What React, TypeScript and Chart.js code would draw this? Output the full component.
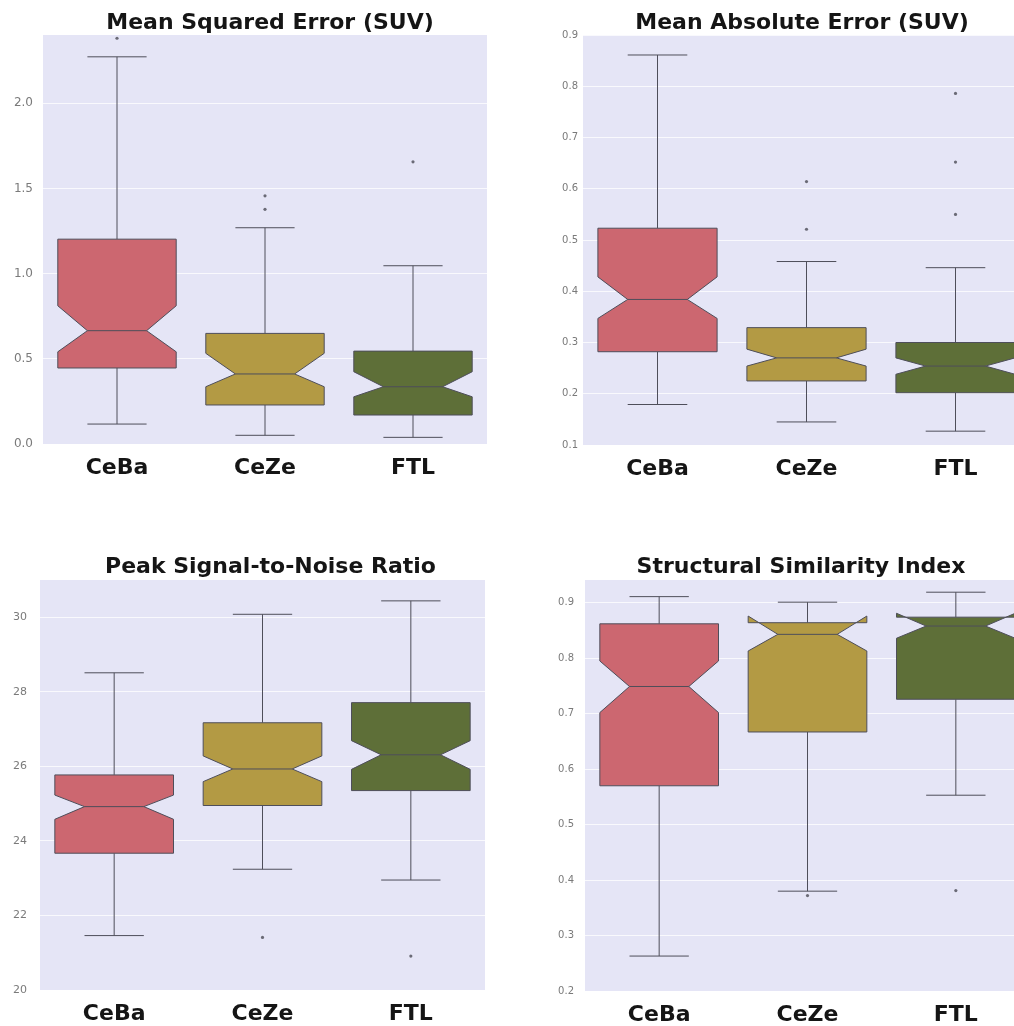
import React, { useEffect, useRef } from 'react';
import { Chart, registerables } from 'chart.js';

Chart.register(...registerables);

const FONT = 'DejaVu Sans';

const categories = ['CeBa', 'CeZe', 'FTL'];
const boxColors = ['#cc6770', '#b39a44', '#5e6f38'];
const edgeColor = '#4e4e5a';
const plotBackground = '#e5e5f6';

// Mean Squared Error (SUV)
const mseWhiskerLow = [0.117, 0.051, 0.039];
const mseQ1 = [0.446, 0.229, 0.17];
const mseNotchLow = [0.541, 0.336, 0.277];
const mseMedian = [0.665, 0.411, 0.336];
const mseNotchHigh = [0.811, 0.532, 0.424];
const mseQ3 = [1.202, 0.649, 0.545];
const mseWhiskerHigh = [2.272, 1.269, 1.046];
const mseOutliers = [[2.381], [1.377, 1.456], [1.656]];
const mseTicks = [0, 0.5, 1.0, 1.5, 2.0];

// Mean Absolute Error (SUV)
const maeWhiskerLow = [0.179, 0.145, 0.127];
const maeQ1 = [0.282, 0.225, 0.202];
const maeNotchLow = [0.347, 0.254, 0.238];
const maeMedian = [0.384, 0.27, 0.254];
const maeNotchHigh = [0.428, 0.287, 0.27];
const maeQ3 = [0.523, 0.329, 0.3];
const maeWhiskerHigh = [0.861, 0.458, 0.446];
const maeOutliers = [[], [0.521, 0.614], [0.55, 0.652, 0.786]];
const maeTicks = [0.1, 0.2, 0.3, 0.4, 0.5, 0.6, 0.7, 0.8, 0.9];

// Peak Signal-to-Noise Ratio
const psnrWhiskerLow = [21.46, 23.24, 22.95];
const psnrQ1 = [23.67, 24.95, 25.35];
const psnrNotchLow = [24.58, 25.59, 25.92];
const psnrMedian = [24.92, 25.93, 26.31];
const psnrNotchHigh = [25.23, 26.28, 26.69];
const psnrQ3 = [25.77, 27.17, 27.71];
const psnrWhiskerHigh = [28.51, 30.08, 30.44];
const psnrOutliers = [[], [21.41], [20.91]];
const psnrTicks = [20, 22, 24, 26, 28, 30];

// Structural Similarity Index
const ssimWhiskerLow = [0.263, 0.38, 0.553];
const ssimQ1 = [0.57, 0.667, 0.726];
const ssimNotchLow = [0.702, 0.813, 0.836];
const ssimMedian = [0.749, 0.843, 0.858];
const ssimNotchHigh = [0.795, 0.876, 0.881];
const ssimQ3 = [0.862, 0.864, 0.874];
const ssimWhiskerHigh = [0.911, 0.901, 0.919];
const ssimOutliers = [[], [0.372], [0.381]];
const ssimTicks = [0.2, 0.3, 0.4, 0.5, 0.6, 0.7, 0.8, 0.9];

type Stats = {
  whiskerLow: number[];
  q1: number[];
  notchLow: number[];
  median: number[];
  notchHigh: number[];
  q3: number[];
  whiskerHigh: number[];
  outliers: number[][];
};

type PanelSpec = {
  title: string;
  stats: Stats;
  yMin: number;
  yMax: number;
  yTicks: number[];
  decimals: number;
  left: number;
  top: number;
  width: number;
  height: number;
  yAxisWidth: number;
  xAxisHeight: number;
  padRight: number;
  titlePadTop: number;
  titlePadBottom: number;
  yTickPadding: number;
  yTickSize: number;
};

const panels: PanelSpec[] = [
  {
    title: 'Mean Squared Error (SUV)',
    stats: { whiskerLow: mseWhiskerLow, q1: mseQ1, notchLow: mseNotchLow, median: mseMedian, notchHigh: mseNotchHigh, q3: mseQ3, whiskerHigh: mseWhiskerHigh, outliers: mseOutliers },
    yMin: 0, yMax: 2.4, yTicks: mseTicks, decimals: 1,
    left: 0, top: 0, width: 540, height: 500,
    yAxisWidth: 43, xAxisHeight: 56, padRight: 53, titlePadTop: 12, titlePadBottom: 1,
    yTickPadding: 10, yTickSize: 12,
  },
  {
    title: 'Mean Absolute Error (SUV)',
    stats: { whiskerLow: maeWhiskerLow, q1: maeQ1, notchLow: maeNotchLow, median: maeMedian, notchHigh: maeNotchHigh, q3: maeQ3, whiskerHigh: maeWhiskerHigh, outliers: maeOutliers },
    yMin: 0.1, yMax: 0.9, yTicks: maeTicks, decimals: 1,
    left: 505, top: 0, width: 594, height: 500,
    yAxisWidth: 78, xAxisHeight: 55, padRight: 69, titlePadTop: 12, titlePadBottom: 1,
    yTickPadding: 5, yTickSize: 10,
  },
  {
    title: 'Peak Signal-to-Noise Ratio',
    stats: { whiskerLow: psnrWhiskerLow, q1: psnrQ1, notchLow: psnrNotchLow, median: psnrMedian, notchHigh: psnrNotchHigh, q3: psnrQ3, whiskerHigh: psnrWhiskerHigh, outliers: psnrOutliers },
    yMin: 20, yMax: 31, yTicks: psnrTicks, decimals: 0,
    left: 0, top: 540, width: 541, height: 500,
    yAxisWidth: 40, xAxisHeight: 50, padRight: 56, titlePadTop: 16, titlePadBottom: 2,
    yTickPadding: 13, yTickSize: 11,
  },
  {
    title: 'Structural Similarity Index',
    stats: { whiskerLow: ssimWhiskerLow, q1: ssimQ1, notchLow: ssimNotchLow, median: ssimMedian, notchHigh: ssimNotchHigh, q3: ssimQ3, whiskerHigh: ssimWhiskerHigh, outliers: ssimOutliers },
    yMin: 0.2, yMax: 0.941, yTicks: ssimTicks, decimals: 1,
    left: 505, top: 540, width: 592, height: 500,
    yAxisWidth: 80, xAxisHeight: 49, padRight: 67, titlePadTop: 16, titlePadBottom: 2,
    yTickPadding: 11, yTickSize: 10,
  },
];

const backgroundPlugin = {
  id: 'plotBackground',
  beforeDraw(chart: any) {
    const { ctx, chartArea } = chart;
    ctx.save();
    ctx.fillStyle = plotBackground;
    ctx.fillRect(chartArea.left, chartArea.top, chartArea.right - chartArea.left, chartArea.bottom - chartArea.top);
    ctx.restore();
  },
};

function makeBoxPlugin(stats: Stats) {
  return {
    id: 'notchedBox',
    beforeDatasetsDraw(chart: any) {
      const { ctx } = chart;
      const yScale = chart.scales.y;
      const meta = chart.getDatasetMeta(0);
      const py = (v: number) => yScale.getPixelForValue(v);
      ctx.save();
      ctx.beginPath();
      ctx.rect(chart.chartArea.left, chart.chartArea.top, chart.chartArea.right - chart.chartArea.left, chart.chartArea.bottom - chart.chartArea.top);
      ctx.clip();
      meta.data.forEach((bar: any, i: number) => {
        const x = bar.x;
        const w = bar.width;
        const left = x - w / 2;
        const right = x + w / 2;
        const capL = x - w / 4;
        const capR = x + w / 4;
        ctx.lineWidth = 1;
        ctx.strokeStyle = edgeColor;
        // whiskers
        ctx.beginPath();
        ctx.moveTo(x, py(stats.q1[i]));
        ctx.lineTo(x, py(stats.whiskerLow[i]));
        ctx.moveTo(capL, py(stats.whiskerLow[i]));
        ctx.lineTo(capR, py(stats.whiskerLow[i]));
        ctx.moveTo(x, py(stats.q3[i]));
        ctx.lineTo(x, py(stats.whiskerHigh[i]));
        ctx.moveTo(capL, py(stats.whiskerHigh[i]));
        ctx.lineTo(capR, py(stats.whiskerHigh[i]));
        ctx.stroke();
        // notched box
        ctx.beginPath();
        ctx.moveTo(left, py(stats.q1[i]));
        ctx.lineTo(right, py(stats.q1[i]));
        ctx.lineTo(right, py(stats.notchLow[i]));
        ctx.lineTo(capR, py(stats.median[i]));
        ctx.lineTo(right, py(stats.notchHigh[i]));
        ctx.lineTo(right, py(stats.q3[i]));
        ctx.lineTo(left, py(stats.q3[i]));
        ctx.lineTo(left, py(stats.notchHigh[i]));
        ctx.lineTo(capL, py(stats.median[i]));
        ctx.lineTo(left, py(stats.notchLow[i]));
        ctx.closePath();
        ctx.fillStyle = boxColors[i];
        ctx.fill();
        ctx.stroke();
        // median
        ctx.beginPath();
        ctx.moveTo(capL, py(stats.median[i]));
        ctx.lineTo(capR, py(stats.median[i]));
        ctx.stroke();
      });
      ctx.restore();
    },
  };
}

function BoxPanel({ spec }: { spec: PanelSpec }) {
  const ref = useRef<HTMLCanvasElement | null>(null);
  useEffect(() => {
    if (!ref.current) return;
    const s = spec.stats;
    const outlierPoints = s.outliers.flatMap((arr, i) => arr.map((y) => ({ x: categories[i], y })));
    const chart = new Chart(ref.current, {
      type: 'bar',
      data: {
        labels: categories,
        datasets: [
          {
            type: 'bar',
            data: s.q1.map((v, i) => [v, s.q3[i]]) as any,
            backgroundColor: 'rgba(0,0,0,0)',
            borderWidth: 0,
            barPercentage: 0.8,
            categoryPercentage: 1,
            yAxisID: 'y',
          },
          {
            type: 'scatter',
            data: outlierPoints as any,
            pointRadius: 1.6,
            pointBackgroundColor: '#6a6a76',
            pointBorderWidth: 0,
            showLine: false,
            yAxisID: 'y',
          } as any,
        ],
      },
      options: {
        responsive: false,
        animation: false,
        devicePixelRatio: 1,
        layout: { padding: 0 },
        plugins: {
          legend: { display: false },
          tooltip: { enabled: false },
          title: {
            display: true,
            text: spec.title,
            color: '#151515',
            font: { family: FONT, size: 22, weight: 'bold', lineHeight: 1 },
            padding: { top: spec.titlePadTop, bottom: spec.titlePadBottom },
          },
        },
        scales: {
          x: {
            type: 'category',
            offset: true,
            grid: { display: false, drawTicks: false },
            border: { display: false },
            afterFit: (scale: any) => {
              scale.height = spec.xAxisHeight;
            },
            ticks: {
              font: { family: FONT, size: 22, weight: 'bold' },
              color: '#151515',
              padding: 11,
              maxRotation: 0,
              autoSkip: false,
            },
          },
          y: {
            type: 'linear',
            position: 'left',
            min: spec.yMin,
            max: spec.yMax,
            afterFit: (scale: any) => {
              scale.width = spec.yAxisWidth;
            },
            afterBuildTicks: (scale: any) => {
              scale.ticks = spec.yTicks.map((v) => ({ value: v }));
            },
            grid: { color: 'rgba(255,255,255,0.75)', lineWidth: 1, drawTicks: false },
            border: { display: false },
            ticks: {
              font: { family: FONT, size: spec.yTickSize },
              color: '#7a7a7a',
              padding: spec.yTickPadding,
              callback: (v: any) => Number(v).toFixed(spec.decimals),
            },
          },
          // empty spacer axis on the right, keeps the title centred on the full panel
          rightSpacer: {
            type: 'linear',
            position: 'right',
            min: 0,
            max: 1,
            grid: { display: false, drawTicks: false },
            border: { display: false },
            ticks: { display: false },
            afterFit: (scale: any) => {
              scale.width = spec.padRight;
            },
          },
        },
      } as any,
      plugins: [backgroundPlugin, makeBoxPlugin(s)],
    });
    return () => chart.destroy();
  }, [spec]);
  return (
    <div style={{ position: 'absolute', left: spec.left, top: spec.top, width: spec.width, height: spec.height }}>
      <canvas ref={ref} width={spec.width} height={spec.height} style={{ display: 'block' }} />
    </div>
  );
}

export default function App() {
  return (
    <div
      style={{
        position: 'fixed',
        left: 0,
        top: 0,
        width: 1014,
        height: 1026,
        overflow: 'hidden',
        background: '#ffffff',
      }}
    >
      {panels.map((p) => (
        <BoxPanel key={p.title} spec={p} />
      ))}
    </div>
  );
}
